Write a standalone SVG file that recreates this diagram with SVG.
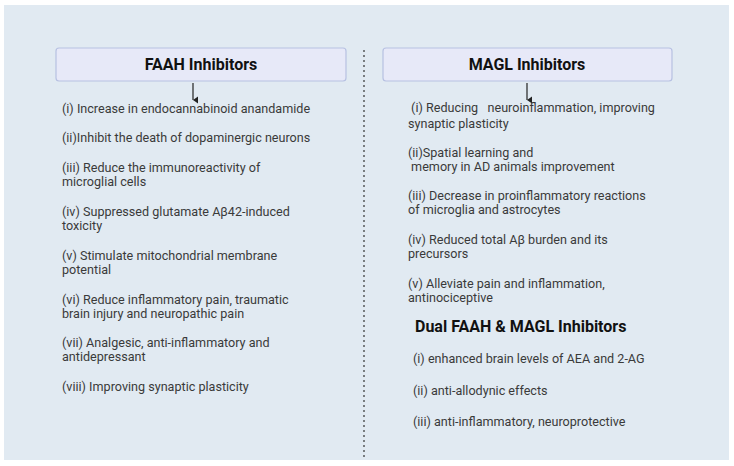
<svg xmlns="http://www.w3.org/2000/svg" width="734" height="466" viewBox="0 0 734 466">
<style>
.t{font-family:Roboto,"Liberation Sans",sans-serif;font-size:12.6px;fill:#3a3a3a}
.h{font-family:Roboto,"Liberation Sans",sans-serif;font-size:16px;font-weight:bold;fill:#111}
.box{fill:#e7e9f8;stroke:#b7c1e2;stroke-width:1.2}
</style>
<defs><marker id="a" markerWidth="8" markerHeight="8" refX="4" refY="7" orient="auto" markerUnits="userSpaceOnUse"><path d="M0.5,2 L4,7 L7.5,2 Z" fill="#222"/></marker></defs>
<rect x="0" y="0" width="734" height="466" fill="#fff"/>
<rect x="4" y="5" width="725" height="455" fill="#e1eaf2"/>
<g id="faah"><rect class="box" x="56" y="48" width="290" height="33" rx="3"/><text class="h" x="201" y="70" text-anchor="middle">FAAH Inhibitors</text></g>
<g id="magl"><rect class="box" x="383" y="48" width="289" height="33" rx="3"/><text class="h" x="527" y="70" text-anchor="middle">MAGL Inhibitors</text></g>
<g id="connectors" stroke="#222" stroke-width="1.2" fill="none">
<line x1="193" y1="83" x2="193" y2="100" marker-end="url(#a)"/>
<line x1="527" y1="83" x2="527" y2="100" marker-end="url(#a)"/>
<line x1="364" y1="50" x2="364" y2="460" stroke="#333" stroke-dasharray="2,3"/>
</g>
<g id="faah-list" class="t">
<text class="t" x="62" y="113">(i) Increase in endocannabinoid anandamide</text>
<text class="t" x="62" y="142">(ii)Inhibit the death of dopaminergic neurons</text>
<text class="t" x="62" y="172">(iii) Reduce the immunoreactivity of</text>
<text class="t" x="62" y="186">microglial cells</text>
<text class="t" x="62" y="216">(iv) Suppressed glutamate Aβ42-induced</text>
<text class="t" x="62" y="230">toxicity</text>
<text class="t" x="62" y="260">(v) Stimulate mitochondrial membrane</text>
<text class="t" x="62" y="274">potential</text>
<text class="t" x="62" y="304">(vi) Reduce inflammatory pain, traumatic</text>
<text class="t" x="62" y="318">brain injury and neuropathic pain</text>
<text class="t" x="62" y="347">(vii) Analgesic, anti-inflammatory and</text>
<text class="t" x="62" y="361">antidepressant</text>
<text class="t" x="62" y="391">(viii) Improving synaptic plasticity</text>
</g>
<g id="magl-list">
<text class="t" x="408" y="112" xml:space="preserve"> (i) Reducing   neuroinflammation, improving</text>
<text class="t" x="408" y="128">synaptic plasticity</text>
<text class="t" x="408" y="157">(ii)Spatial learning and</text>
<text class="t" x="408" y="171" xml:space="preserve"> memory in AD animals improvement</text>
<text class="t" x="408" y="200">(iii) Decrease in proinflammatory reactions</text>
<text class="t" x="408" y="214">of microglia and astrocytes</text>
<text class="t" x="408" y="244">(iv) Reduced total Aβ burden and its</text>
<text class="t" x="408" y="258">precursors</text>
<text class="t" x="408" y="288">(v) Alleviate pain and inflammation,</text>
<text class="t" x="408" y="302">antinociceptive</text>
</g>
<g id="dual">
<text class="h" x="415" y="332">Dual FAAH &amp; MAGL Inhibitors</text>
<text class="t" x="413" y="363">(i) enhanced brain levels of AEA and 2-AG</text>
<text class="t" x="413" y="395">(ii) anti-allodynic effects</text>
<text class="t" x="413" y="426">(iii) anti-inflammatory, neuroprotective</text>
</g>
</svg>
